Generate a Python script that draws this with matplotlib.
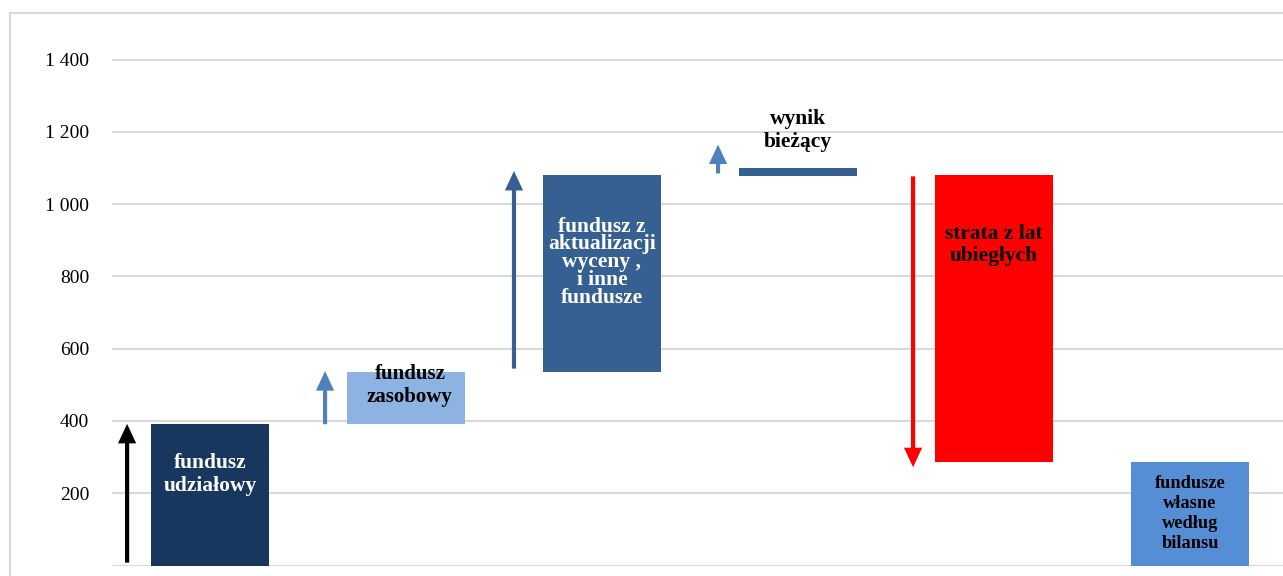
import matplotlib.pyplot as plt
from matplotlib.patches import Rectangle

# bars of the waterfall (floating bars: bottom and top value)
labels = ['fundusz\nudziałowy', 'fundusz\nzasobowy',
          'fundusz z\naktualizacji\nwyceny ,\ni inne\nfundusze',
          'wynik\nbieżący', 'strata z lat\nubiegłych',
          'fundusze\nwłasne\nwedług\nbilansu']
bar_bottom = [0, 391, 535, 1078, 286, 0]
bar_top = [391, 535, 1080, 1101, 1080, 286]
bar_colors = ['#17375e', '#8db3e2', '#366092', '#366092', '#ff0000', '#558ed5']

# arrows next to the bars (start value -> end value)
arrow_start = [8, 391, 545, 1085, 1077]
arrow_end = [392, 538, 1092, 1165, 272]
arrow_colors = ['black', '#4f81bd', '#366092', '#4f81bd', '#ff0000']
arrow_dx = [-0.423, -0.413, -0.449, -0.408, -0.413]

yticks = [200, 400, 600, 800, 1000, 1200, 1400]

# label styling
label_colors = ['white', 'black', 'white', 'black', 'black', 'black']
label_y = [253, 498, 839, 1205, 888, 144]
label_dx = [0, 0.02, 0, 0, 0, 0]
label_size = [15.5, 15, 15.5, 15.5, 15.4, 13.2]
label_spacing = [1.2, 1.15, 0.86, 1.2, 1.15, 1.23]

fig = plt.figure(figsize=(12.83, 5.76), dpi=100)
ax = fig.add_axes([112 / 1283, 10.5 / 576, 1176 / 1283, 542 / 576])

x = list(range(len(labels)))
heights = [t - b for t, b in zip(bar_top, bar_bottom)]
ax.bar(x, heights, bottom=bar_bottom, width=0.6, color=bar_colors, zorder=3)

for i in range(len(arrow_start)):
    ax.annotate('', xy=(i + arrow_dx[i], arrow_end[i]),
                xytext=(i + arrow_dx[i], arrow_start[i]),
                arrowprops=dict(arrowstyle='-|>,head_width=0.42,head_length=0.9',
                                lw=3.0, color=arrow_colors[i], joinstyle='miter',
                                capstyle='butt', shrinkA=0, shrinkB=0), zorder=4)

for i, lab in enumerate(labels):
    ax.text(i + label_dx[i], label_y[i], lab, ha='center', va='center',
            color=label_colors[i], fontsize=label_size[i], fontweight='bold',
            family='Liberation Serif', linespacing=label_spacing[i], zorder=5)

ax.set_xlim(-0.5, 5.5)
ax.set_ylim(0, 1500)
ax.set_yticks([0] + yticks)
ax.set_yticklabels([''] + [f'{v:,}'.replace(',', ' ') for v in yticks],
                   family='Liberation Serif', fontsize=14)
ax.set_xticks([])
ax.tick_params(axis='y', length=0, pad=16.5)
ax.grid(axis='y', color='#d9d9d9', lw=1.5, zorder=0)
for s in ax.spines.values():
    s.set_visible(False)

# outer chart frame
fig.patches.append(Rectangle((10 / 1283, -0.1), 1.2, (576 - 13) / 576 + 0.1,
                             transform=fig.transFigure, fill=False,
                             edgecolor='#d9d9d9', lw=1.5, zorder=0))

fig.savefig('out.png', dpi=100)
